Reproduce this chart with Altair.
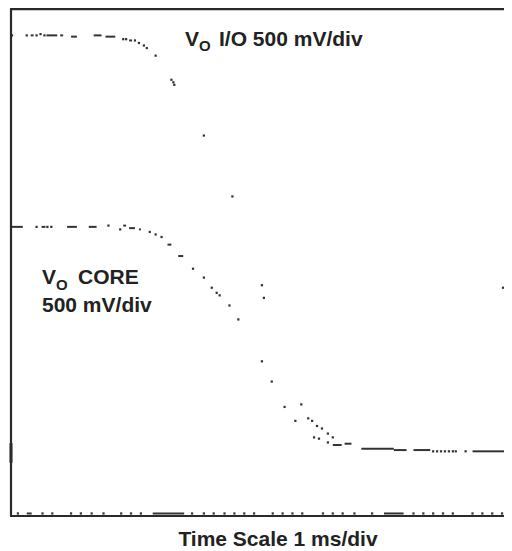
import altair as alt
import pandas as pd

# ---- data: time in ms, voltage in V ----
# V_O I/O trace: single dots
io_t = [0.019, 0.301, 0.489, 0.564, 0.639, 2.143, 2.199, 2.368, 2.444, 2.538,
        2.594, 2.763, 3.064, 3.102, 3.120, 3.684, 4.229, 4.793, 4.831, 4.981,
        5.545, 5.677, 5.752, 5.846, 5.940, 6.053, 6.147, 9.398]
io_v = [3.27, 3.27, 3.27, 3.28, 3.27, 3.24, 3.24, 3.23, 3.21, 3.19,
        3.17, 3.11, 2.92, 2.90, 2.88, 2.48, 2.00, 1.30, 1.20, 0.54,
        0.36, 0.25, 0.23, 0.19, 0.17, 0.13, 0.10, 1.28]
# V_O I/O trace: short dashes (start, end, level)
io_dash_t1 = [0.376, 0.677, 0.940, 1.147, 1.579, 1.805, 2.256]
io_dash_t2 = [0.432, 0.883, 0.996, 1.259, 1.729, 1.992, 2.312]
io_dash_v = [3.27, 3.27, 3.27, 3.26, 3.27, 3.26, 3.23]

# V_O CORE trace: single dots
core_t = [0.489, 0.695, 0.771, 1.861, 2.086, 2.650, 2.763, 2.876, 3.477, 3.684,
          3.835, 3.929, 3.985, 4.173, 4.342, 4.793, 5.226, 5.432, 5.789, 5.883,
          6.053, 8.064, 8.139, 8.214, 8.289, 8.365, 8.440, 8.496, 8.684]
core_v = [1.76, 1.76, 1.76, 1.77, 1.74, 1.72, 1.70, 1.68, 1.43, 1.36,
          1.28, 1.24, 1.22, 1.14, 1.03, 0.70, 0.34, 0.23, 0.10, 0.09,
          0.06, -0.01, -0.01, -0.01, -0.01, -0.01, -0.01, -0.01, -0.01]
# V_O CORE trace: short dashes
core_dash_t1 = [0.019, 0.583, 1.071, 1.485, 2.143, 2.256, 2.444, 2.989, 3.195,
                6.147, 6.372, 6.692, 7.312, 7.688, 8.816]
core_dash_t2 = [0.226, 0.658, 1.259, 1.635, 2.199, 2.368, 2.481, 3.064, 3.289,
                6.316, 6.504, 7.312, 7.556, 8.008, 9.417]
core_dash_v = [1.76, 1.76, 1.76, 1.76, 1.77, 1.75, 1.74, 1.62, 1.53,
               0.04, 0.05, 0.01, 0.00, 0.00, -0.01]

# trace along the bottom of the screen
bottom_t = [0.132, 0.602, 0.789, 1.147, 1.335, 1.541, 1.767, 2.105, 2.293, 2.481,
            3.459, 3.684, 3.872, 4.079, 4.267, 4.455, 4.643, 5.000, 5.188, 5.376,
            5.564, 5.959, 6.147, 6.335, 6.560, 6.898, 7.688, 7.876, 8.064, 8.252,
            8.440, 8.816, 9.004, 9.192, 9.380]
bottom_v = [-0.50] * len(bottom_t)
bottom_dash_t1 = [0.301, 2.707, 7.124]
bottom_dash_t2 = [0.395, 3.308, 7.500]
bottom_dash_v = [-0.50, -0.50, -0.50]

# ground marker on the left edge
gnd_v1 = [-0.10]
gnd_v2 = [0.055]

X_DOMAIN = [0, 9.417]
Y_DOMAIN = [-0.52, 3.478]
INK = "#2a2a2a"
FONT = "Liberation Sans"

xs = alt.Scale(domain=X_DOMAIN, nice=False, zero=False)
ys = alt.Scale(domain=Y_DOMAIN, nice=False, zero=False)

dots = pd.DataFrame({
    "t": io_t + core_t + bottom_t,
    "v": io_v + core_v + bottom_v,
})
dashes = pd.DataFrame({
    "t1": io_dash_t1 + core_dash_t1 + bottom_dash_t1,
    "t2": io_dash_t2 + core_dash_t2 + bottom_dash_t2,
    "v": io_dash_v + core_dash_v + bottom_dash_v,
})
gnd = pd.DataFrame({"t": [0.0], "v1": gnd_v1, "v2": gnd_v2})

dot_layer = alt.Chart(dots).mark_square(size=5, color="#333333", opacity=1).encode(
    x=alt.X("t:Q", scale=xs, axis=None),
    y=alt.Y("v:Q", scale=ys, axis=None),
)
dash_layer = alt.Chart(dashes).mark_rule(strokeWidth=2, color="#333333").encode(
    x=alt.X("t1:Q", scale=xs, axis=None),
    x2="t2:Q",
    y=alt.Y("v:Q", scale=ys, axis=None),
)
gnd_layer = alt.Chart(gnd).mark_rule(strokeWidth=3, color=INK).encode(
    x=alt.X("t:Q", scale=xs, axis=None),
    y=alt.Y("v1:Q", scale=ys, axis=None),
    y2="v2:Q",
)

one = pd.DataFrame({"k": [0]})
W, H = 493, 507

frame = [
    alt.Chart(one).mark_rule(strokeWidth=2.2, color=INK).encode(
        x=alt.value(0), y=alt.value(0), y2=alt.value(H)),
    alt.Chart(one).mark_rule(strokeWidth=2.4, color=INK).encode(
        x=alt.value(-1), x2=alt.value(W), y=alt.value(0)),
    alt.Chart(one).mark_rule(strokeWidth=2.2, color=INK).encode(
        x=alt.value(-1), x2=alt.value(W), y=alt.value(H)),
]


def label(text, x, y, size=21, align="left"):
    return alt.Chart(pd.DataFrame({"s": [text]})).mark_text(
        font=FONT, fontSize=size, fontWeight="bold", color="#222222",
        align=align, baseline="alphabetic",
    ).encode(text="s:N", x=alt.value(x), y=alt.value(y))


labels = [
    label("V", 174, 36.5),
    label("O", 188, 42, size=15),
    label("I/O 500 mV/div", 208, 36.5),
    label("V", 31, 275),
    label("O", 45, 281, size=15),
    label("CORE", 67, 275),
    label("500 mV/div", 31, 303),
    label("Time Scale 1 ms/div", 267, 537, align="center"),
]

chart = alt.layer(dash_layer, dot_layer, gnd_layer, *frame, *labels).properties(
    width=W,
    height=H,
    autosize=alt.AutoSizeParams(type="none"),
    padding={"left": 3, "top": 1, "right": 0, "bottom": 34},
).configure_view(strokeWidth=0, strokeOpacity=0)

chart.save("out.html", embed_options={"renderer": "svg", "actions": False})
